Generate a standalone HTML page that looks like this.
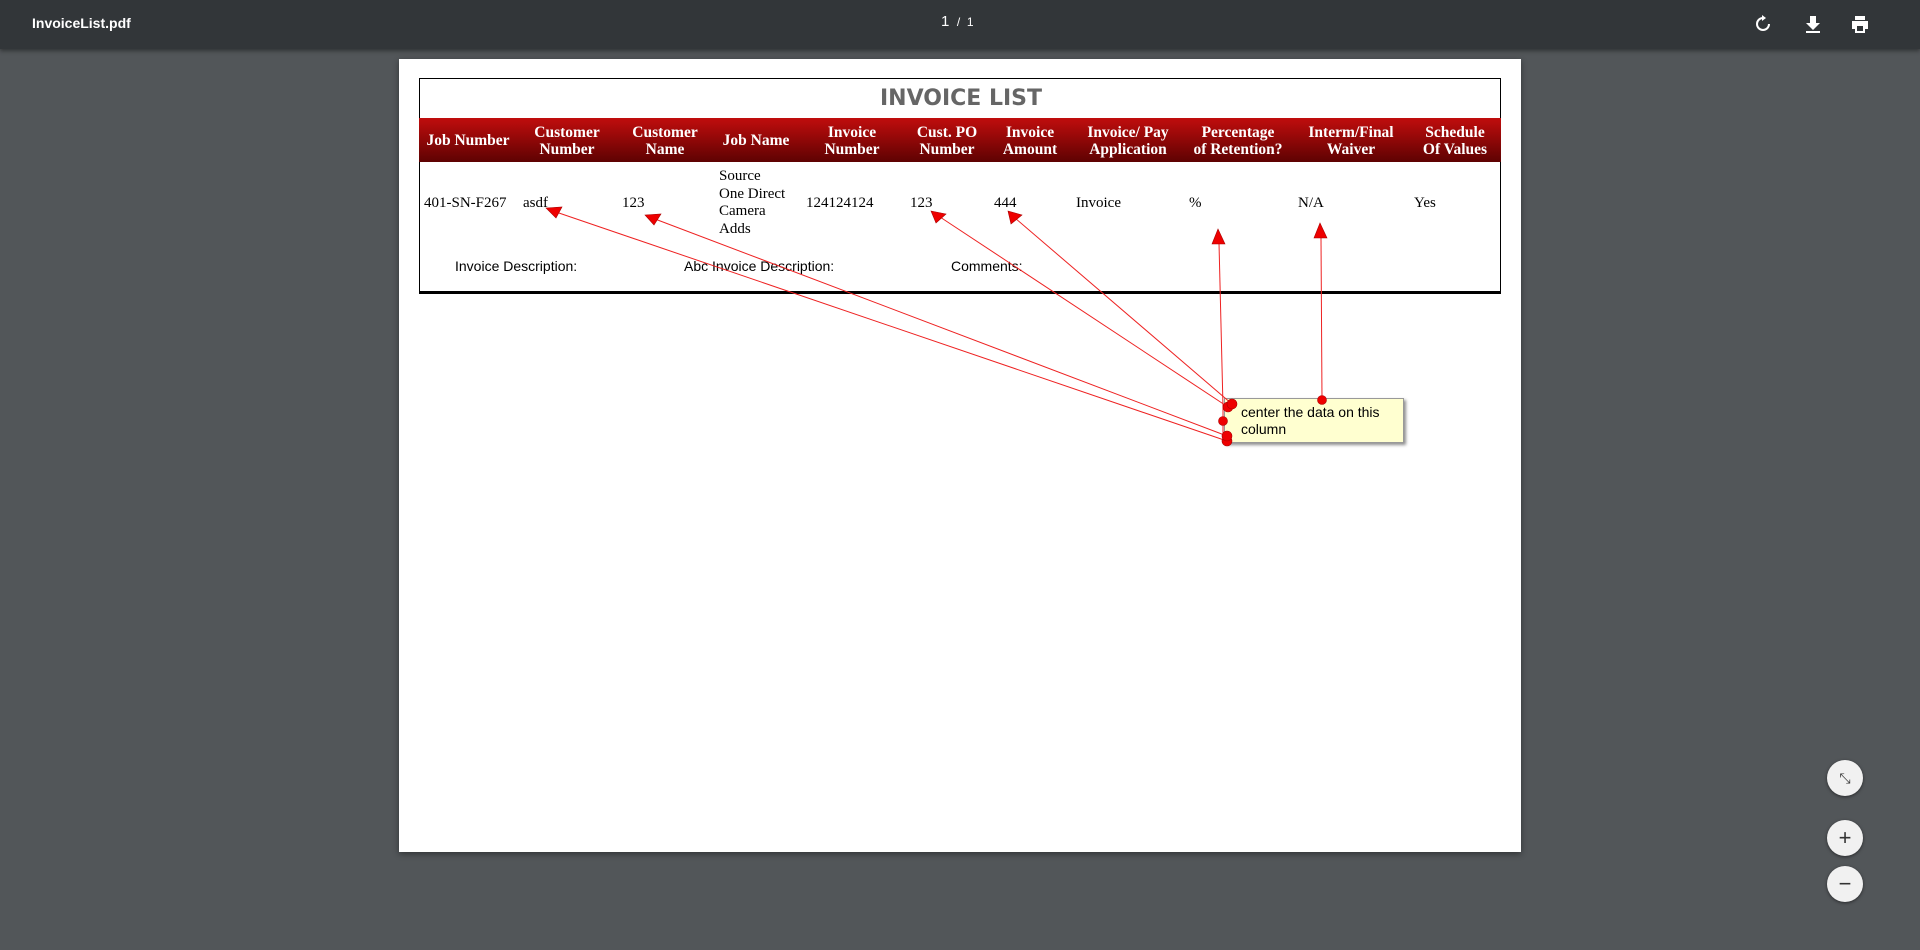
<!DOCTYPE html>
<html><head><meta charset="utf-8"><style>
html,body{margin:0;padding:0;width:1920px;height:950px;overflow:hidden;background:#525659;font-family:"Liberation Sans",sans-serif;}
.bar{position:absolute;left:0;top:0;width:1920px;height:49px;background:#323639;box-shadow:0 2px 4px rgba(0,0,0,.4);color:#fff}
.page{position:absolute;left:399px;top:59px;width:1122px;height:793px;background:#fff;box-shadow:0 2px 6px rgba(0,0,0,.4)}
.t{position:absolute;white-space:nowrap}
.tbl{position:absolute;left:419px;top:78px;width:1082px;height:216px;border:1px solid #000;border-bottom:3px solid #000;box-sizing:border-box}
.hdr{position:absolute;left:419px;top:118px;width:1082px;height:44px;background:linear-gradient(#c00d0d,#5e0202)}
.h{position:absolute;top:124px;transform:translateX(-50%);text-align:center;color:#fff;font:bold 15.5px/17px "Liberation Serif",serif;white-space:nowrap}
.d{position:absolute;font:15px/18px "Liberation Serif",serif;color:#000;white-space:nowrap}
.btn{position:absolute;width:36px;height:36px;border-radius:50%;background:#f1f1f1;box-shadow:0 1px 3px rgba(0,0,0,.5);color:#333;text-align:center;font:22px/36px "Liberation Sans",sans-serif}
</style></head><body>
<div class="bar">
<div class="t" style="left:32px;top:15px;font-size:14px;font-weight:bold">InvoiceList.pdf</div>
<div class="t" style="left:941px;top:13px;font-size:15px">1 <span style="font-size:12px">&nbsp;/&nbsp; 1</span></div>
<svg style="position:absolute;left:1753px;top:14px" width="20" height="20" viewBox="0 0 20 20"><path d="M10 4a6 6 0 1 0 6 6" fill="none" stroke="#fff" stroke-width="2"/><path d="M9 1l4 3-4 3z" fill="#fff"/></svg>
<svg style="position:absolute;left:1803px;top:14px" width="20" height="20" viewBox="0 0 20 20"><path d="M7 2h6v7h4l-7 7-7-7h4z M3 17h14v2H3z" fill="#fff"/></svg>
<svg style="position:absolute;left:1850px;top:14px" width="20" height="20" viewBox="0 0 20 20"><path d="M5 2h10v4H5z M2 7h16v8h-3v4H5v-4H2z" fill="#fff"/><rect x="7" y="12" width="6" height="5" fill="#323639"/></svg>
</div>
<div class="page"></div>
<div class="tbl"></div>
<div class="t" style="left:880px;top:86px;font:bold 22px 'DejaVu Sans',sans-serif;color:#666">INVOICE LIST</div>
<div class="hdr"></div>
<div class="h" style="left:468px;top:132px">Job Number</div>
<div class="h" style="left:567px">Customer<br>Number</div>
<div class="h" style="left:665px">Customer<br>Name</div>
<div class="h" style="left:756px;top:132px">Job Name</div>
<div class="h" style="left:852px">Invoice<br>Number</div>
<div class="h" style="left:947px">Cust. PO<br>Number</div>
<div class="h" style="left:1030px">Invoice<br>Amount</div>
<div class="h" style="left:1128px">Invoice/ Pay<br>Application</div>
<div class="h" style="left:1238px">Percentage<br>of Retention?</div>
<div class="h" style="left:1351px">Interm/Final<br>Waiver</div>
<div class="h" style="left:1455px">Schedule<br>Of Values</div>
<div class="d" style="left:424px;top:194px">401-SN-F267</div>
<div class="d" style="left:523px;top:194px">asdf</div>
<div class="d" style="left:622px;top:194px">123</div>
<div class="d" style="left:719px;top:168px;line-height:17.7px">Source<br>One Direct<br>Camera<br>Adds</div>
<div class="d" style="left:806px;top:194px">124124124</div>
<div class="d" style="left:910px;top:194px">123</div>
<div class="d" style="left:994px;top:194px">444</div>
<div class="d" style="left:1076px;top:194px">Invoice</div>
<div class="d" style="left:1189px;top:194px">%</div>
<div class="d" style="left:1298px;top:194px">N/A</div>
<div class="d" style="left:1414px;top:194px">Yes</div>
<div class="t" style="left:455px;top:258px;font-size:14px">Invoice Description:</div>
<div class="t" style="left:684px;top:258px;font-size:14px">Abc Invoice Description:</div>
<div class="t" style="left:951px;top:258px;font-size:14px">Comments:</div>
<div style="position:absolute;left:1224px;top:398px;width:180px;height:45px;background:#ffffd0;border:1px solid #999;box-sizing:border-box;box-shadow:2px 2px 3px rgba(0,0,0,.45)"></div>
<div class="t" style="left:1241px;top:404px;font-size:14px;line-height:17px;color:#000">center the data on this<br>column</div>
<svg style="position:absolute;left:0;top:0" width="1920" height="950">
<g stroke="#e22" stroke-width="1">
<line x1="1227" y1="441" x2="556" y2="212"/>
<line x1="1227" y1="436" x2="655" y2="219"/>
<line x1="1228" y1="407" x2="940" y2="217"/>
<line x1="1232" y1="404" x2="1015" y2="218"/>
<line x1="1223" y1="407" x2="1219" y2="243"/>
<line x1="1322" y1="400" x2="1321" y2="238"/>
<line x1="1223" y1="407" x2="1223" y2="440"/>
</g>
<g fill="#e00" stroke="#a00" stroke-width=".6">
<polygon points="546,208 562,207 556,218"/>
<polygon points="645,215 661,214 654,225"/>
<polygon points="931,211 946,214 936,223"/>
<polygon points="1008,211 1022,215 1011,224"/>
<polygon points="1218,229 1225,244 1212,244"/>
<polygon points="1320,223 1327,238 1314,238"/>
<circle cx="1227" cy="441" r="5"/><circle cx="1227" cy="436" r="5"/>
<circle cx="1223" cy="421" r="4.5"/><circle cx="1228" cy="407" r="5"/><circle cx="1232" cy="404" r="5"/>
<circle cx="1322" cy="400" r="4.5"/>
</g>
</svg>
<div class="btn" style="left:1827px;top:760px;font-size:14px">⤡</div>
<div class="btn" style="left:1827px;top:820px">+</div>
<div class="btn" style="left:1827px;top:866px">−</div>
</body></html>
